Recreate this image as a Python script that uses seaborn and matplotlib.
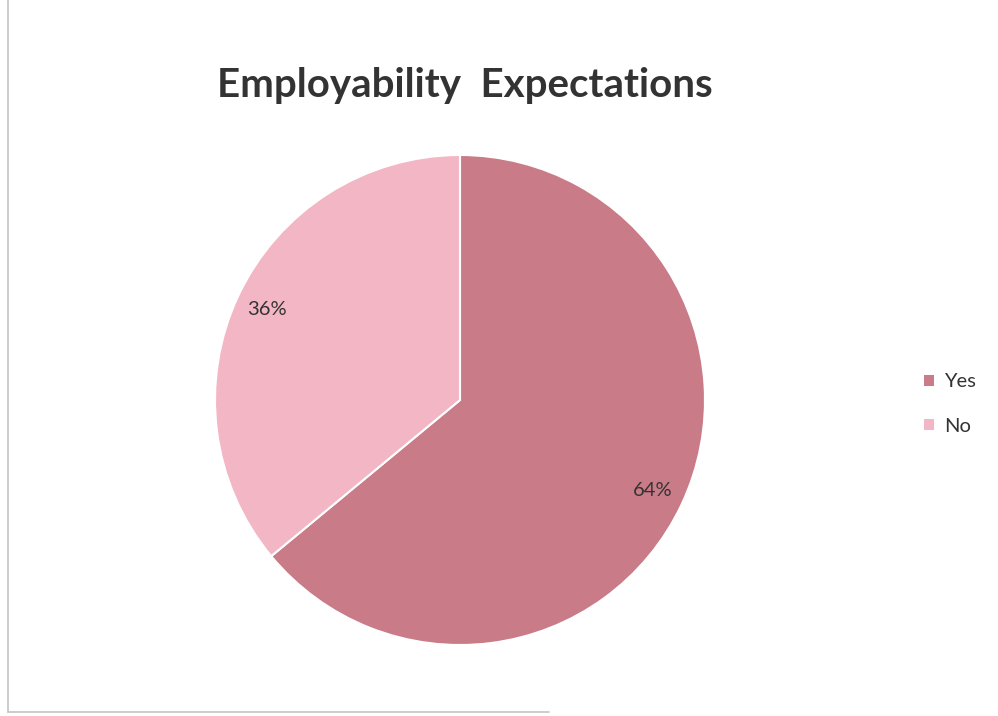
import matplotlib
matplotlib.use("Agg")
import matplotlib.pyplot as plt
import seaborn as sns
from matplotlib.lines import Line2D
from matplotlib.patches import Patch

# data
labels = ["Yes", "No"]
shares = [64, 36]
colors = ["#C97B88", "#F3B6C5"]

sns.set_theme(style="white")
plt.rcParams["font.family"] = ["Lato", "DejaVu Sans"]

fig = plt.figure(figsize=(9.98, 7.16), dpi=100)
fig.patch.set_facecolor("white")

# pie: centre ~(460,400) px, radius ~245 px
ax = fig.add_axes([215 / 998, 1 - 645 / 716, 490 / 998, 490 / 716])
wedges, texts, autotexts = ax.pie(
    shares, colors=colors, startangle=90, counterclock=False,
    autopct="%d%%", pctdistance=0.87,
    wedgeprops=dict(edgecolor="white", linewidth=1.5),
    textprops=dict(fontsize=14.5, color="#333333"),
)
ax.set_xlim(-1, 1)
ax.set_ylim(-1, 1)
ax.set_aspect("equal")
ax.axis("off")

fig.text(465 / 998, 1 - 86 / 716, "Employability  Expectations",
         ha="center", va="center", fontsize=29, fontweight="bold", color="#333333")

handles = [Patch(facecolor=c, edgecolor="none") for c in colors]
fig.legend(handles, labels, loc="center left", bbox_to_anchor=(906 / 998, 1 - 404 / 716),
           frameon=False, fontsize=14.5, handlelength=0.5, handleheight=0.5,
           handletextpad=0.5, labelspacing=1.35, labelcolor="#333333")

# faint frame edges of the scanned chart
fig.add_artist(Line2D([8 / 998, 8 / 998], [0.005, 1.0], color="#c4c4c4", lw=1.2))
fig.add_artist(Line2D([8 / 998, 0.55], [1 - 712 / 716] * 2, color="#c4c4c4", lw=1.2))

fig.savefig("out.png", dpi=100)
